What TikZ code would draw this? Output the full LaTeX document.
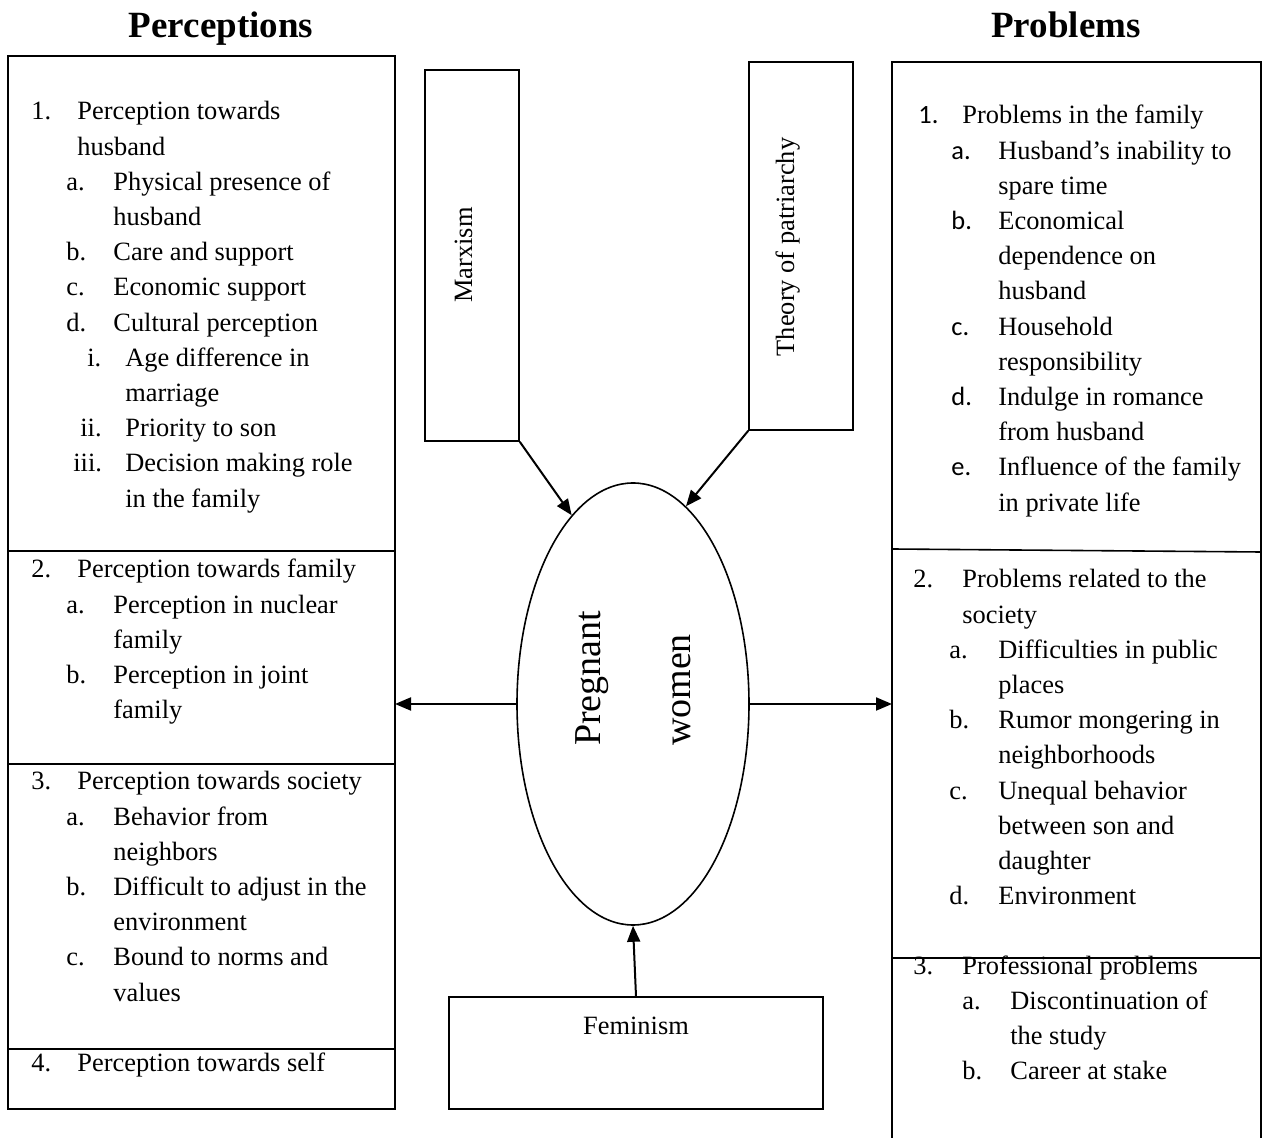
\documentclass[tikz,border=0pt]{standalone}
\usepackage{fontspec}
\setmainfont{Liberation Serif}
\newfontfamily\calibri{Carlito}
\usetikzlibrary{arrows.meta,shapes.geometric}
\newdimen\pxu \pxu=0.5pt
\newcommand{\itm}[4]{\hbox{\rlap{\hskip#1\pxu\relax#3}\hskip#2\pxu\relax#4}}
\tikzset{
  line/.style={line width=0.8pt},
  box/.style={draw,line width=0.8pt,inner sep=0pt},
  arr/.style={line width=1pt,-{Triangle[length=8pt,width=6.5pt]}},
  list/.style={anchor=base west,inner sep=0pt},
  head/.style={font=\fontsize{18.5}{22}\selectfont\bfseries},
  big/.style={font=\fontsize{19}{23}\selectfont}
}
\begin{document}
\begin{tikzpicture}[x=0.5pt,y=-0.5pt,font=\fontsize{13.2}{17.6}\selectfont]
\useasboundingbox (0,0) rectangle (1265,1138);
\coordinate (LA) at (8,56);
\coordinate (LB) at (395,1109);
\coordinate (RA) at (892,1138);
\coordinate (RB) at (892,62);
\coordinate (RC) at (1261,62);
\coordinate (RD) at (1261,1138);
\coordinate (PL) at (395,704);
\coordinate (PR) at (892,704);
\draw[line] (LA) rectangle (LB);
\draw[line] (8,551) -- (395,551) (8,764) -- (395,764) (8,1049) -- (395,1049);
\draw[line] (RA) -- (RB) -- (RC) -- (RD);
\draw[line] (892,549) -- (1261,552) (892,958) -- (1261,958);
\node[head,anchor=base] (tl) at (221,38) {Perceptions};
\node[head,anchor=base] (tr) at (1066,38) {Problems};
\node[box,minimum width=47pt,minimum height=185.5pt] (marx) at (472,255.5) {};
\node[box,minimum width=52pt,minimum height=184pt] (patr) at (801,246) {};
\node[box,minimum width=187pt,minimum height=56pt] (fem) at (636,1053) {};
\node[draw,line width=0.8pt,ellipse,inner sep=0pt,minimum width=116pt,minimum height=221pt] (pw) at (633,704) {};
\node[rotate=90,anchor=base] (marxt) at (472,255) {Marxism};
\node[rotate=90,anchor=base] (patrt) at (794,247) {Theory of patriarchy};
\node[anchor=base] (femt) at (636,1034) {Feminism};
\node[big,rotate=90,anchor=base west] (pg) at (600,753) {Pregnant};
\node[big,rotate=90,anchor=base west] (wm) at (690,753) {women};
\draw[arr] (marx.south east) -- (pw.108);
\draw[arr] (patr.south west) -- (pw.75);
\draw[arr] (fem.north) -- (pw.south);
\draw[arr] (pw.west) -- (PL);
\draw[arr] (pw.east) -- (PR);
\node[list] (l1) at (8,120) {\vtop{
  \itm{23}{69}{1.}{Perception towards}
  \itm{0}{69}{}{husband}
  \itm{58}{105}{a.}{Physical presence of}
  \itm{0}{105}{}{husband}
  \itm{58}{105}{b.}{Care and support}
  \itm{58}{105}{c.}{Economic support}
  \itm{58}{105}{d.}{Cultural perception}
  \itm{79}{117}{i.}{Age difference in}
  \itm{0}{117}{}{marriage}
  \itm{72}{117}{ii.}{Priority to son}
  \itm{65}{117}{iii.}{Decision making role}
  \itm{0}{117}{}{in the family}}};
\node[list] (l2) at (8,578) {\vtop{
  \itm{23}{69}{2.}{Perception towards family}
  \itm{58}{105}{a.}{Perception in nuclear}
  \itm{0}{105}{}{family}
  \itm{58}{105}{b.}{Perception in joint}
  \itm{0}{105}{}{family}}};
\node[list] (l3) at (8,790) {\vtop{
  \itm{23}{69}{3.}{Perception towards society}
  \itm{58}{105}{a.}{Behavior from}
  \itm{0}{105}{}{neighbors}
  \itm{58}{105}{b.}{Difficult to adjust in the}
  \itm{0}{105}{}{environment}
  \itm{58}{105}{c.}{Bound to norms and}
  \itm{0}{105}{}{values}}};
\node[list] (l4) at (8,1072) {\vtop{
  \itm{23}{69}{4.}{Perception towards self}}};
\node[list] (r1) at (892,124) {\vtop{
  \itm{26}{70}{\calibri 1.}{Problems in the family}
  \itm{59}{106}{\calibri a.}{Husband’s inability to}
  \itm{0}{106}{}{spare time}
  \itm{59}{106}{\calibri b.}{Economical}
  \itm{0}{106}{}{dependence on}
  \itm{0}{106}{}{husband}
  \itm{59}{106}{\calibri c.}{Household}
  \itm{0}{106}{}{responsibility}
  \itm{59}{106}{\calibri d.}{Indulge in romance}
  \itm{0}{106}{}{from husband}
  \itm{59}{106}{\calibri e.}{Influence of the family}
  \itm{0}{106}{}{in private life}}};
\node[list] (r2) at (892,588) {\vtop{
  \itm{21}{70}{2.}{Problems related to the}
  \itm{0}{70}{}{society}
  \itm{57}{106}{a.}{Difficulties in public}
  \itm{0}{106}{}{places}
  \itm{57}{106}{b.}{Rumor mongering in}
  \itm{0}{106}{}{neighborhoods}
  \itm{57}{106}{c.}{Unequal behavior}
  \itm{0}{106}{}{between son and}
  \itm{0}{106}{}{daughter}
  \itm{57}{106}{d.}{Environment}}};
\node[list] (r3) at (892,974) {\vtop{
  \itm{21}{70}{3.}{Professional problems}
  \itm{70}{118}{a.}{Discontinuation of}
  \itm{0}{118}{}{the study}
  \itm{70}{118}{b.}{Career at stake}}};
\end{tikzpicture}
\end{document}
